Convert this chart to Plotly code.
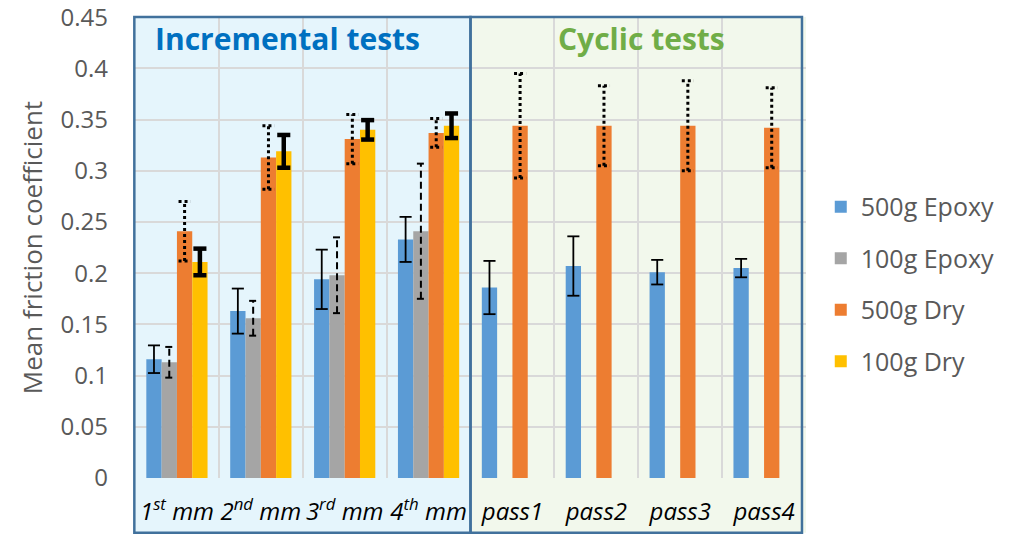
import plotly.graph_objects as go

# ---------------- data ----------------
categories = ["1<sup>st</sup> mm", "2<sup>nd</sup> mm", "3<sup>rd</sup> mm", "4<sup>th</sup> mm",
              "pass1", "pass2", "pass3", "pass4"]
series_names = ["500g Epoxy", "100g Epoxy", "500g Dry", "100g Dry"]

epoxy500 = [0.116, 0.163, 0.194, 0.233, 0.186, 0.207, 0.201, 0.205]
epoxy500_err = [0.0135, 0.022, 0.029, 0.022, 0.026, 0.029, 0.012, 0.009]
epoxy100 = [0.113, 0.156, 0.198, 0.241, None, None, None, None]
epoxy100_err = [0.015, 0.017, 0.037, 0.066, None, None, None, None]
dry500 = [0.241, 0.313, 0.331, 0.337, 0.344, 0.344, 0.344, 0.342]
dry500_err = [0.029, 0.031, 0.024, 0.014, 0.051, 0.039, 0.044, 0.039]
dry100 = [0.211, 0.319, 0.340, 0.344, None, None, None, None]
dry100_err = [0.013, 0.016, 0.0095, 0.012, None, None, None, None]

y_ticks = [0, 0.05, 0.1, 0.15, 0.2, 0.25, 0.3, 0.35, 0.4, 0.45]
y_ticktext = ["0", "0.05", "0.1", "0.15", "0.2", "0.25", "0.3", "0.35", "0.4", "0.45"]

# ---------------- styling ----------------
colors = ["#5B9BD5", "#A5A5A5", "#ED7D31", "#FFC000"]
err_styles = [
    dict(width=1.8, dash="solid", cap=0.072),
    dict(width=2.0, dash="7px,4px", cap=0.048),
    dict(width=3.0, dash="3px,3px", cap=0.072),
    dict(width=4.5, dash="solid", cap=0.078),
]
FONT = "Open Sans"
TXT = "#595959"
BARGAP = 0.27

values = [epoxy500, epoxy100, dry500, dry100]
errors = [epoxy500_err, epoxy100_err, dry500_err, dry100_err]
xs = list(range(len(categories)))
n = len(values)
bw = (1 - BARGAP) / n

fig = go.Figure()
for k in range(n):
    fig.add_trace(go.Bar(
        x=xs, y=values[k], name=series_names[k], marker_color=colors[k],
        marker_line_width=0, legendgroup=series_names[k],
    ))

# custom-styled error bars, drawn at each bar's centre
for k in range(n):
    off = (k - (n - 1) / 2) * bw
    st = err_styles[k]
    ex, ey = [], []
    for i, (v, e) in enumerate(zip(values[k], errors[k])):
        if v is None or e is None:
            continue
        xc = xs[i] + off
        lo, hi = v - e, v + e
        ex += [xc, xc, None, xc - st["cap"], xc + st["cap"], None, xc - st["cap"], xc + st["cap"], None]
        ey += [lo, hi, None, hi, hi, None, lo, lo, None]
    fig.add_trace(go.Scatter(
        x=ex, y=ey, mode="lines", showlegend=False, hoverinfo="skip",
        line=dict(color="black", width=st["width"], dash=st["dash"]),
        legendgroup=series_names[k],
    ))

bot, top = -0.119, 1.0
shapes = [
    dict(type="rect", xref="paper", yref="paper", x0=0, x1=0.5, y0=bot, y1=top,
         fillcolor="#E5F5FC", line_width=0, layer="below"),
    dict(type="rect", xref="paper", yref="paper", x0=0.5, x1=1, y0=bot, y1=top,
         fillcolor="#F2F8EC", line_width=0, layer="below"),
    dict(type="rect", xref="paper", yref="paper", x0=-0.001, x1=0.5, y0=bot, y1=top,
         line=dict(color="#41719C", width=2.5), fillcolor="rgba(0,0,0,0)", layer="above"),
    dict(type="rect", xref="paper", yref="paper", x0=0.5, x1=0.994, y0=bot, y1=top,
         line=dict(color="#41719C", width=2.5), fillcolor="rgba(0,0,0,0)", layer="above"),
]

annotations = [
    dict(text="<b>Incremental tests</b>", xref="paper", yref="paper", x=0.228, y=0.953,
         showarrow=False, font=dict(family=FONT, size=30, color="#0070C0"),
         xanchor="center", yanchor="middle"),
    dict(text="<b>Cyclic tests</b>", xref="paper", yref="paper", x=0.755, y=0.953,
         showarrow=False, font=dict(family=FONT, size=30, color="#70AD47"),
         xanchor="center", yanchor="middle"),
    dict(text="Mean friction coefficient", xref="paper", yref="paper", x=-0.154, y=0.5,
         textangle=-90, showarrow=False, font=dict(family=FONT, size=26, color=TXT),
         xanchor="center", yanchor="middle"),
]

fig.update_layout(
    width=1010, height=535,
    margin=dict(l=135, r=204, t=17, b=57, autoexpand=False),
    paper_bgcolor="white", plot_bgcolor="rgba(0,0,0,0)",
    barmode="group", bargap=BARGAP, bargroupgap=0,
    font=dict(family=FONT, color=TXT),
    shapes=shapes, annotations=annotations,
    legend=dict(x=1.022, xanchor="left", y=0.421, yanchor="middle",
                font=dict(family=FONT, size=25, color=TXT),
                traceorder="grouped", tracegroupgap=16, bgcolor="rgba(0,0,0,0)"),
    xaxis=dict(
        range=[-0.5, 7.5], tickmode="array", tickvals=xs,
        ticktext=[f"<i>{c}</i>" for c in categories],
        tickfont=dict(family=FONT, size=24, color="black"),
        showgrid=False, zeroline=False, showline=False, ticks="",
        ticklabelstandoff=17, automargin=False, ticklabeloverflow="allow",
        minor=dict(tickmode="array", tickvals=[0.5, 1.5, 2.5, 4.5, 5.5, 6.5],
                   showgrid=True, gridcolor="#D9D9D9", gridwidth=2, ticks=""),
    ),
    yaxis=dict(
        range=[0, 0.4502], tickmode="array", tickvals=y_ticks, ticktext=y_ticktext,
        tickfont=dict(family=FONT, size=24, color=TXT),
        showgrid=True, gridcolor="#D9D9D9", gridwidth=2, zeroline=False,
        showline=False, ticks="", ticklabelstandoff=26, automargin=False,
        ticklabeloverflow="allow",
    ),
)

fig.write_html("out.html")
